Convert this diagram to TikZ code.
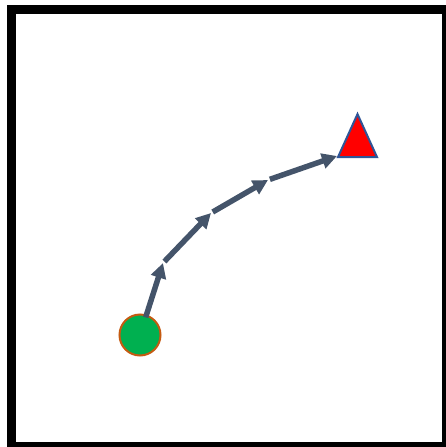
\documentclass[tikz,border=0pt]{standalone}
\usepackage{xcolor}
\usepackage{tikz}
\usetikzlibrary{arrows.meta,positioning,shapes.geometric}
\definecolor{PathSlate} {RGB}{ 68, 84,106}
\definecolor{StartGreen}{RGB}{  0,176, 80}
\definecolor{StartRim}  {RGB}{197, 90, 17}
\definecolor{GoalRed}   {RGB}{255,  0,  0}
\definecolor{GoalRim}   {RGB}{ 47, 85,151}
\begin{document}
\begin{tikzpicture}[x=1pt,y=-1pt,
      frame/.style={draw=black,line width=9pt},
      startdot/.style={circle,fill=StartGreen,draw=StartRim,line width=2pt,
                       minimum size=41pt,inner sep=0pt},
      goalmark/.style={isosceles triangle,isosceles triangle stretches,
                       shape border rotate=90,fill=GoalRed,draw=GoalRim,
                       line width=2pt,minimum width=39pt,minimum height=43pt,
                       inner sep=0pt},
      hop/.style={-{Triangle[length=15pt,width=15pt]},line width=5.5pt,
                  PathSlate,shorten <=2pt}]
    \useasboundingbox (0,0) rectangle (446,447);
    \draw[frame] (11.5,9.5) rectangle (446.5,446.5);
    \node[startdot] (start) at (140,335) {};
    \node[goalmark] (goal) at (357.5,144.5) {};
    \coordinate (w1) at (163,263);
    \coordinate (w2) at (211,213);
    \coordinate (w3) at (268,180);
    \coordinate (w4) at (337,156);
    \draw[hop,shorten <=-3pt] (start) -- (w1);
    \draw[hop] (w1) -- (w2);
    \draw[hop] (w2) -- (w3);
    \draw[hop] (w3) -- (w4);
  \end{tikzpicture}
\end{document}
